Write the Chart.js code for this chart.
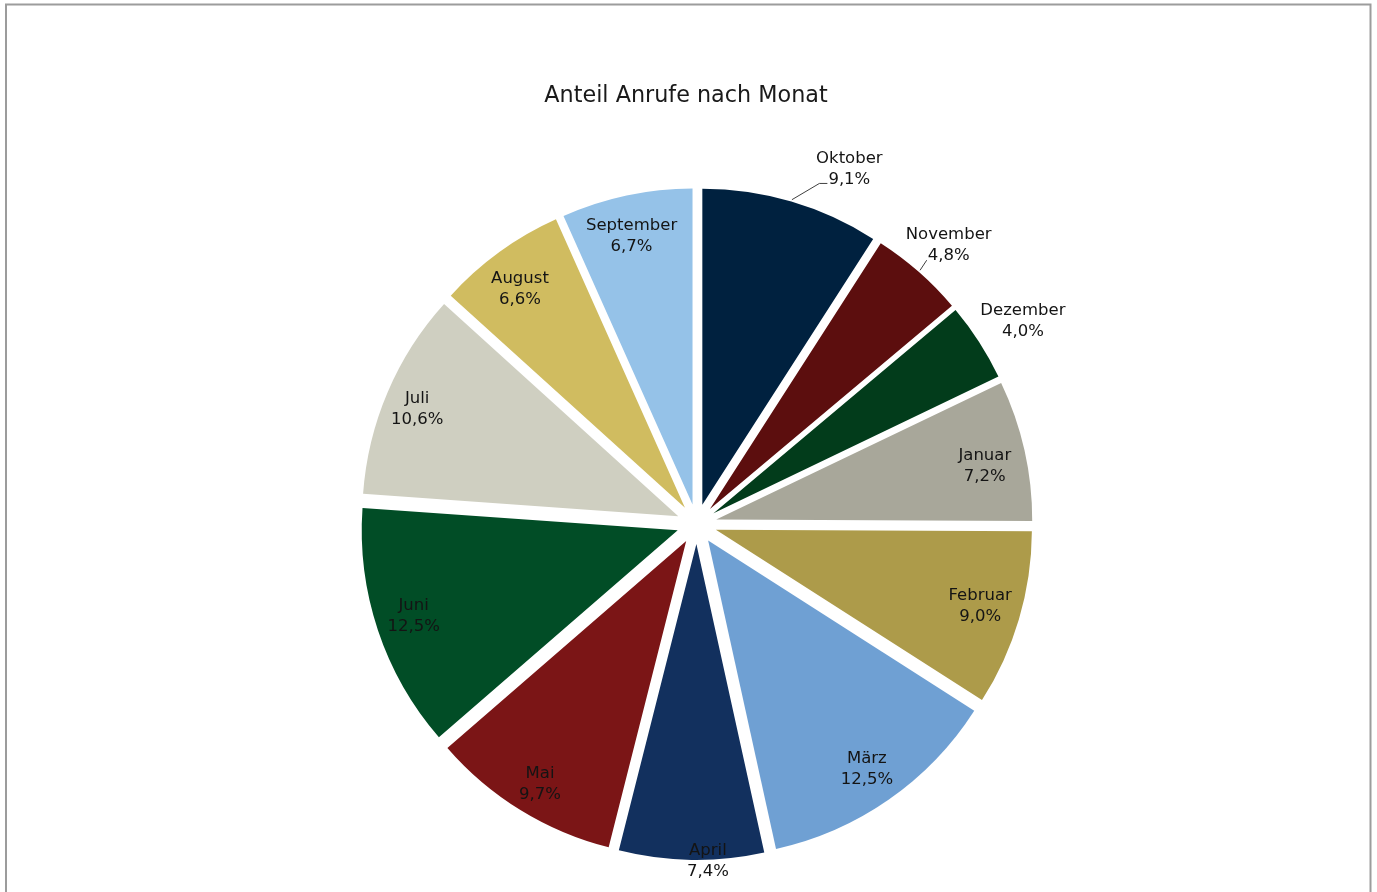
<!DOCTYPE html>
<html>
<head>
<meta charset="utf-8">
<script src="https://cdn.jsdelivr.net/npm/chart.js@4"></script>
<style>
  html, body { margin: 0; padding: 0; background: #ffffff; }
  #wrap { position: relative; width: 1377px; height: 892px; }
</style>
</head>
<body>
<div id="wrap"><canvas id="c" width="1377" height="892"></canvas></div>
<script>
// ---- data ----
const chartTitle = 'Anteil Anrufe nach Monat';
const months = ['Oktober', 'November', 'Dezember', 'Januar', 'Februar', 'März',
                'April', 'Mai', 'Juni', 'Juli', 'August', 'September'];
const shares = [9.1, 4.8, 4.0, 7.2, 9.0, 12.5, 7.4, 9.7, 12.5, 10.6, 6.6, 6.7];
const sliceColors = ['#00213f', '#5c0e0e', '#023c1b', '#a8a79a', '#ad9b4a', '#6fa0d3',
                     '#12305e', '#7b1516', '#014d26', '#cfcfc1', '#d0bc60', '#95c2e8'];

// ---- label layout (distance as factor of radius, angle shift in degrees, leader tail px) ----
const labelDist  = [1.223, 1.188, 1.216, 0.930, 0.934, 0.944, 1.067, 0.961, 0.942, 0.956, 0.930, 0.934];
const labelShift = [6.9, 0.8, 0.9, 1.3, -0.3, 0.1, -2.8, -0.6, 0.4, -0.8, -1.0, -0.7];
const leaderTail = [8, 0, -1, -1, -1, -1, -1, -1, -1, -1, -1, -1];

const EXPLODE = 20;
const LABEL_FONT = '16.5px "DejaVu Sans", Verdana, sans-serif';

const fmt = v => v.toFixed(1).replace('.', ',') + '%';

const decorPlugin = {
  id: 'decor',
  beforeDraw(chart) {
    const ctx = chart.ctx;
    ctx.save();
    ctx.fillStyle = '#ffffff';
    ctx.fillRect(0, 0, chart.width, chart.height);
    ctx.strokeStyle = '#9c9c9c';
    ctx.lineWidth = 2;
    ctx.strokeRect(6, 4.5, 1364.5, 960);
    ctx.fillStyle = '#1a1a1a';
    ctx.font = '22.3px "DejaVu Sans", Verdana, sans-serif';
    ctx.textAlign = 'center';
    ctx.textBaseline = 'alphabetic';
    ctx.fillText(chartTitle, 686, 102);
    ctx.restore();
  },
  // draw every arc element of the library, exploded outward along its mid angle
  beforeDatasetDraw(chart, args) {
    const ctx = chart.ctx;
    const meta = args.meta;
    meta.data.forEach(arc => {
      const mid = (arc.startAngle + arc.endAngle) / 2;
      ctx.save();
      ctx.translate(Math.cos(mid) * EXPLODE, Math.sin(mid) * EXPLODE);
      arc.draw(ctx, chart.chartArea);
      ctx.restore();
    });
    return false;
  },
  afterDatasetsDraw(chart) {
    const ctx = chart.ctx;
    const meta = chart.getDatasetMeta(0);
    ctx.save();
    ctx.font = LABEL_FONT;
    ctx.textAlign = 'center';
    ctx.textBaseline = 'middle';
    const lineH = 21;
    meta.data.forEach((arc, i) => {
      const p = arc.getProps(['x', 'y', 'startAngle', 'endAngle', 'outerRadius'], true);
      const R = p.outerRadius;
      const mid = (p.startAngle + p.endAngle) / 2;
      const ang = mid + labelShift[i] * Math.PI / 180;
      const d = R * labelDist[i];
      const lx = p.x + Math.cos(ang) * d;
      const ly = p.y + Math.sin(ang) * d;
      const pct = fmt(shares[i]);
      const y1 = ly - lineH / 2;
      const y2 = ly + lineH / 2;
      if (leaderTail[i] >= 0) {
        const pw = ctx.measureText(pct).width;
        const left = lx - pw / 2;
        const sx = p.x + Math.cos(mid) * (R + EXPLODE + 2);
        const sy = p.y + Math.sin(mid) * (R + EXPLODE + 2);
        const ey = y2 + 4;
        ctx.strokeStyle = '#404040';
        ctx.lineWidth = 1;
        ctx.beginPath();
        ctx.moveTo(sx, sy);
        if (leaderTail[i] > 0) {
          ctx.lineTo(left - 1 - leaderTail[i], ey);
          ctx.lineTo(left - 1, ey);
        } else {
          ctx.lineTo(left - 1, ey);
        }
        ctx.stroke();
      }
      ctx.fillStyle = '#141414';
      ctx.fillText(months[i], lx, y1);
      ctx.fillText(pct, lx, y2);
    });
    ctx.restore();
  }
};

new Chart(document.getElementById('c'), {
  type: 'pie',
  data: {
    labels: months,
    datasets: [{
      data: shares,
      backgroundColor: sliceColors,
      borderColor: '#ffffff',
      borderWidth: 0,
      offset: 0,
      hoverOffset: 0
    }]
  },
  options: {
    responsive: false,
    animation: false,
    radius: 316,
    layout: { padding: { left: 16.4, right: 0, top: 156, bottom: 0 } },
    plugins: {
      legend: { display: false },
      tooltip: { enabled: false },
      title: { display: false }
    }
  },
  plugins: [decorPlugin]
});
</script>
</body>
</html>
